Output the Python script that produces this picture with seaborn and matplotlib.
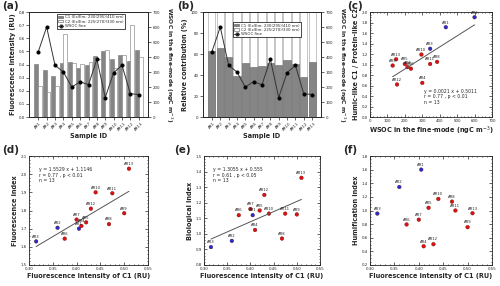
import numpy as np
import pandas as pd
import matplotlib
matplotlib.use("Agg")
import matplotlib.pyplot as plt
import seaborn as sns
from matplotlib.patches import Patch
from matplotlib.lines import Line2D

sns.set_style("ticks")
plt.rcParams['font.family'] = ['DejaVu Sans']

# data
samples = ['AR1', 'AR2', 'AR3', 'AR4', 'AR5', 'AR6', 'AR7', 'AR8', 'AR9', 'AR10', 'AR11', 'AR12', 'AR13']
c1 = [0.405, 0.36, 0.315, 0.41, 0.42, 0.375, 0.40, 0.468, 0.50, 0.44, 0.475, 0.43, 0.51]
c2 = [0.235, 0.19, 0.24, 0.63, 0.41, 0.405, 0.42, 0.445, 0.51, 0.37, 0.47, 0.70, 0.46]
wsoc = [435, 600, 345, 300, 200, 235, 215, 385, 130, 295, 345, 155, 150]
c1_pct = [63, 66, 57, 39, 51, 48, 49, 51.5, 49.5, 54.5, 50.5, 38, 52.5]
c1_c2_ratio = [1.71, 1.90, 1.30, 0.65, 1.01, 0.92, 0.95, 1.05, 0.98, 1.19, 1.01, 0.62, 1.10]
fl_index = [1.70, 1.705, 1.63, 1.715, 1.735, 1.645, 1.75, 1.725, 1.785, 1.90, 1.895, 1.81, 2.03]
bio_index = [1.12, 0.955, 0.915, 1.025, 1.15, 1.12, 1.16, 0.97, 1.125, 1.13, 1.13, 1.25, 1.36]
hum_index = [1.60, 1.345, 0.955, 0.475, 1.04, 0.795, 0.865, 1.13, 0.755, 1.17, 1.00, 0.505, 0.96]
group = ['blue'] * 3 + ['red'] * 10

df = pd.DataFrame({'sample': samples, 'c1': c1, 'c2': c2, 'wsoc': wsoc, 'c1_pct': c1_pct,
                   'ratio': c1_c2_ratio, 'fi': fl_index, 'bix': bio_index, 'hix': hum_index,
                   'group': group})
df['c2_pct'] = 100.0

FS_T = 2.9   # tick font
FS_L = 4.7   # axis label font
C1_COL = '#858585'
pal = {'blue': '#1f2fd6', 'red': '#e01010'}

fig = plt.figure(figsize=(5, 2.86), dpi=100)
W, H = 500, 286


def add_ax(l, r, t, b):
    return fig.add_axes([l / W, 1 - b / H, (r - l) / W, (b - t) / H])


def style(ax):
    ax.tick_params(labelsize=FS_T, length=2, width=0.5, pad=1.2)
    for s in ax.spines.values():
        s.set_linewidth(0.6)
        s.set_visible(True)


# ---------- (a) grouped bars ----------
ax_a = add_ax(29, 148, 12, 117)
long = df.melt(id_vars='sample', value_vars=['c1', 'c2'], var_name='comp', value_name='val')
sns.barplot(data=long, x='sample', y='val', hue='comp', palette={'c1': C1_COL, 'c2': 'white'},
            edgecolor='#777777', linewidth=0.4, width=0.92, ax=ax_a, legend=False)
ax_a.set_ylim(0, 0.8)
ax_a.set_yticks(np.arange(0, 0.81, 0.1))
ax_a.set_ylabel('Fluorescence intensity (RU)', fontsize=FS_L, fontweight='bold', labelpad=2)
ax_a.set_xlabel('Sample ID', fontsize=FS_L, fontweight='bold', labelpad=1)
ax_a2 = ax_a.twinx()
sns.lineplot(x=np.arange(len(samples)), y=wsoc, ax=ax_a2, color='#333333', lw=0.7,
             marker='o', markersize=2.2, markerfacecolor='black', markeredgecolor='black')
ax_a2.set_ylim(0, 700)
ax_a2.set_yticks(np.arange(0, 701, 100))
ax_a2.set_ylabel('WSOC in the fine-mode (ngC m$^{-3}$)', fontsize=4.3, fontweight='bold',
                 rotation=270, va='bottom', labelpad=3)

# ---------- (b) stacked relative contribution ----------
ax_b = add_ax(203, 321, 12, 117)
sns.barplot(data=df, x='sample', y='c2_pct', color='white', edgecolor='#999999',
            linewidth=0.4, width=0.85, ax=ax_b)
sns.barplot(data=df, x='sample', y='c1_pct', color=C1_COL, edgecolor='#666666',
            linewidth=0.4, width=0.85, ax=ax_b)
ax_b.set_ylim(0, 100)
ax_b.set_yticks(np.arange(0, 101, 20))
ax_b.set_ylabel('Relative contribution (%)', fontsize=FS_L, fontweight='bold', labelpad=2)
ax_b.set_xlabel('Sample ID', fontsize=FS_L, fontweight='bold', labelpad=1)
ax_b2 = ax_b.twinx()
sns.lineplot(x=np.arange(len(samples)), y=wsoc, ax=ax_b2, color='#333333', lw=0.7,
             marker='o', markersize=2.2, markerfacecolor='black', markeredgecolor='black')
ax_b2.set_ylim(0, 700)
ax_b2.set_yticks(np.arange(0, 701, 100))
ax_b2.set_ylabel('WSOC in the fine-mode (ngC m$^{-3}$)', fontsize=4.3, fontweight='bold',
                 rotation=270, va='bottom', labelpad=3)

leg_items = [Patch(facecolor=C1_COL, edgecolor='#555555', lw=0.4, label='C1 (Ex/Em: 230(295)/410 nm)'),
             Patch(facecolor='white', edgecolor='#555555', lw=0.4, label='C2 (Ex/Em: 225(270)/330 nm)'),
             Line2D([], [], color='#333333', lw=0.7, marker='o', markersize=2, markerfacecolor='black',
                    label='WSOC fine')]
for ax, anchor in [(ax_a2, (0.22, 1.0)), (ax_b2, (0.24, 0.92))]:
    leg = ax.legend(handles=leg_items, loc='upper left', bbox_to_anchor=anchor, fontsize=2.8,
                    frameon=True, fancybox=False, edgecolor='black', framealpha=1,
                    handlelength=1.3, handleheight=0.6, borderpad=0.3, labelspacing=0.1,
                    handletextpad=0.4)
    leg.get_frame().set_linewidth(0.5)

for ax in (ax_a, ax_b):
    ax.set_xticks(range(len(samples)))
    ax.set_xticklabels(samples, rotation=45, fontsize=FS_T)
    style(ax)
for ax in (ax_a2, ax_b2):
    style(ax)


def scatter_panel(ax, xcol, ycol, xlim, ylim, yticks, xticks, xlabel, ylabel, fit=None, txt_pos=None):
    if fit is not None:
        sns.regplot(data=df, x=xcol, y=ycol, scatter=False, ci=None, truncate=True, ax=ax,
                    line_kws={'color': '#555555', 'lw': 0.7})
    sns.scatterplot(data=df, x=xcol, y=ycol, hue='group', palette=pal, s=7, marker='o',
                    edgecolor='#600000', linewidth=0.25, legend=False, ax=ax)
    dy = (ylim[1] - ylim[0]) * 0.025
    for _, r in df.iterrows():
        ax.text(r[xcol], r[ycol] + dy, r['sample'], fontsize=2.7, ha='center', va='bottom',
                color='#222222')
    ax.set_xlim(*xlim)
    ax.set_ylim(*ylim)
    ax.set_xticks(xticks)
    ax.set_yticks(yticks)
    ax.minorticks_on()
    ax.tick_params(which='both', top=True, right=True, direction='in', labelsize=FS_T,
                   length=2, width=0.5, pad=1.5)
    ax.tick_params(which='minor', length=1)
    ax.set_xlabel(xlabel, fontsize=FS_L, fontweight='bold', labelpad=1.5)
    ax.set_ylabel(ylabel, fontsize=FS_L, fontweight='bold', labelpad=2)
    for s in ax.spines.values():
        s.set_linewidth(0.6)
        s.set_visible(True)
    if fit is not None:
        ax.text(txt_pos[0], txt_pos[1], fit, transform=ax.transAxes, fontsize=3.3,
                va='top', ha='left', linespacing=1.2)


ax_c = add_ax(370, 492, 12, 117)
scatter_panel(ax_c, 'wsoc', 'ratio', (0, 700), (0, 2.0), np.arange(0, 2.01, 0.2),
              np.arange(0, 701, 100), 'WSOC in the fine-mode (ngC m$^{-3}$)',
              'Humic-like C1 / Protein-like C2',
              fit='y = 0.0021 x + 0.5011\nr = 0.77 , p < 0.01\nn = 13', txt_pos=(0.44, 0.27))
ax_c.xaxis.set_major_formatter(plt.FormatStrFormatter('%d'))
ax_c.yaxis.set_major_formatter(plt.FormatStrFormatter('%.1f'))

ax_d = add_ax(29, 148, 156, 265)
scatter_panel(ax_d, 'c1', 'fi', (0.30, 0.55), (1.5, 2.1), np.arange(1.5, 2.11, 0.1),
              np.arange(0.30, 0.551, 0.05), 'Fluorescence intensity of C1 (RU)', 'Fluorescence index',
              fit='y = 1.5529 x + 1.1146\nr = 0.77 , p < 0.01\nn = 13', txt_pos=(0.08, 0.9))

ax_e = add_ax(204, 320, 156, 265)
scatter_panel(ax_e, 'c1', 'bix', (0.30, 0.55), (0.8, 1.5), np.arange(0.8, 1.51, 0.1),
              np.arange(0.30, 0.551, 0.05), 'Fluorescence intensity of C1 (RU)', 'Biological index',
              fit='y = 1.3055 x + 0.555\nr = 0.61 , p < 0.05\nn = 13', txt_pos=(0.08, 0.9))

ax_f = add_ax(370, 492, 156, 265)
scatter_panel(ax_f, 'c1', 'hix', (0.30, 0.55), (0.2, 1.8), np.arange(0.2, 1.81, 0.2),
              np.arange(0.30, 0.551, 0.05), 'Fluorescence intensity of C1 (RU)', 'Humification index')

for ax in (ax_d, ax_e, ax_f):
    ax.xaxis.set_major_formatter(plt.FormatStrFormatter('%.2f'))
    ax.yaxis.set_major_formatter(plt.FormatStrFormatter('%.1f'))

for lab, x, y in [('(a)', 2, 1), ('(b)', 177, 1), ('(c)', 347, 1),
                  ('(d)', 2, 145), ('(e)', 174, 145), ('(f)', 343, 145)]:
    fig.text(x / W, 1 - y / H, lab, fontsize=7.5, fontweight='bold', va='top', ha='left')

fig.savefig('out.png', dpi=100)
